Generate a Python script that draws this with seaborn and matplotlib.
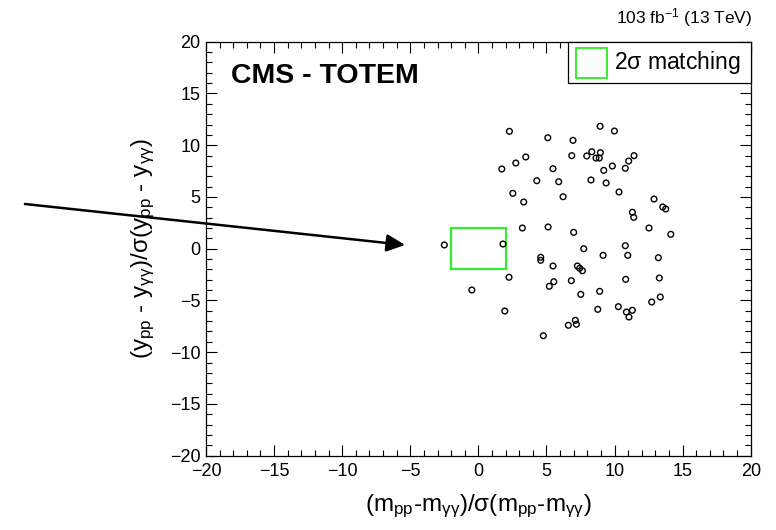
import matplotlib
matplotlib.use("Agg")
import matplotlib.pyplot as plt
from matplotlib.patches import Rectangle
from matplotlib.ticker import MultipleLocator
import seaborn as sns
import pandas as pd

# Normalised mass and rapidity differences of the candidate events
mass_pull = [
    2.28, 8.94, 9.99, 5.10, 6.95, 3.48, 2.75, 1.72, 6.86, 7.96, 8.33, 8.96,
    8.64, 8.88, 11.43, 11.04, 9.84, 10.79, 9.21, 5.48, 4.29, 5.90, 8.27, 9.38,
    10.33, 2.53, 3.33, 6.22, 12.90, 11.31, 11.41, 13.54, 13.76,
    3.23, 5.12, 7.00, 12.53, 14.13, -2.50, 1.81, 7.74, 10.79, 9.16, 10.97,
    13.22, 4.58, 4.58, 5.48, 7.27, 7.44, 7.64, 2.25, 5.54, 5.21, 6.83, 10.82,
    13.29, -0.48, 8.91, 7.52, 13.36, 12.73, 1.94, 8.77, 10.28, 10.87, 11.31,
    11.06, 7.12, 7.20, 6.61, 4.77,
]
rap_pull = [
    11.34, 11.83, 11.37, 10.72, 10.47, 8.86, 8.28, 7.70, 8.99, 8.96, 9.37, 9.28,
    8.76, 8.76, 8.99, 8.47, 7.99, 7.77, 7.57, 7.73, 6.57, 6.47, 6.64, 6.35,
    5.48, 5.35, 4.51, 5.02, 4.80, 3.52, 3.03, 4.03, 3.84,
    2.00, 2.10, 1.58, 2.00, 1.39, 0.36, 0.45, 0.00, 0.29, -0.64, -0.64,
    -0.87, -0.83, -1.12, -1.67, -1.67, -1.89, -2.13, -2.76, -3.19, -3.63, -3.09, -2.96,
    -2.83, -3.99, -4.12, -4.41, -4.67, -5.15, -6.02, -5.86, -5.60, -6.12, -5.95,
    -6.60, -6.92, -7.30, -7.40, -8.41,
]

# 2 sigma matching window
window = 2.0
axis_range = [-20, 20]

# Arrow pointing at the event just outside the window
arrow_tail = (-33.3, 4.32)
arrow_head = (-5.38, 0.36)

sns.set_style("ticks")
plt.rcParams["font.family"] = ["Liberation Sans", "DejaVu Sans"]
plt.rcParams["mathtext.fontset"] = "custom"
plt.rcParams["mathtext.rm"] = "Liberation Sans"
plt.rcParams["mathtext.it"] = "Liberation Sans"
plt.rcParams["mathtext.bf"] = "Liberation Sans:bold"
plt.rcParams["mathtext.sf"] = "Liberation Sans"
for key in ("text.color", "axes.labelcolor", "xtick.color", "ytick.color",
            "axes.edgecolor"):
    plt.rcParams[key] = "black"

df = pd.DataFrame({"dm": mass_pull, "dy": rap_pull})

fig = plt.figure(figsize=(7.76, 5.30), dpi=100)
ax = fig.add_axes([0.2655, 0.1402, 0.9674 - 0.2655, 0.9213 - 0.1402])

sns.scatterplot(data=df, x="dm", y="dy", ax=ax, marker="o", s=17,
                facecolor="none", edgecolor="black", linewidth=1.0, zorder=3)

ax.add_patch(Rectangle((-window, -window), 2 * window, 2 * window,
                       fill=False, edgecolor="#33ee33", linewidth=1.6, zorder=2))

ax.set_xlim(axis_range)
ax.set_ylim(axis_range)
ax.xaxis.set_major_locator(MultipleLocator(5))
ax.yaxis.set_major_locator(MultipleLocator(5))
ax.xaxis.set_minor_locator(MultipleLocator(1))
ax.yaxis.set_minor_locator(MultipleLocator(1))
ax.tick_params(which="both", direction="in", top=True, right=True,
               width=0.8, labelsize=13, color="black", labelcolor="black")
ax.tick_params(which="major", length=8)
ax.tick_params(which="minor", length=4)
ax.tick_params(axis="x", pad=5)
ax.tick_params(axis="y", pad=4)
for sp in ax.spines.values():
    sp.set_linewidth(0.9)
    sp.set_color("black")

ax.set_xlabel(r"(m$_{\mathregular{pp}}$-m$_{\mathregular{\gamma\gamma}}$)/$\mathregular{\sigma}$(m$_{\mathregular{pp}}$-m$_{\mathregular{\gamma\gamma}}$)",
              fontsize=17.5, labelpad=9)
ax.set_ylabel(r"(y$_{\mathregular{pp}}$ - y$_{\mathregular{\gamma\gamma}}$)/$\mathregular{\sigma}$(y$_{\mathregular{pp}}$ - y$_{\mathregular{\gamma\gamma}}$)",
              fontsize=17.5, labelpad=9)

ax.text(-18.2, 16.7, "CMS - TOTEM", fontsize=20.5, fontweight="bold",
        ha="left", va="center")

fig.text(0.969, 0.955, r"103 fb$^{\mathregular{-1}}$ (13 TeV)", fontsize=12.5,
         ha="right", va="baseline")

# Legend box
ax.add_patch(Rectangle((0.665, 0.900), 0.335, 0.100, transform=ax.transAxes,
                       fill=True, facecolor="white", edgecolor="black",
                       linewidth=0.9, zorder=4, clip_on=False))
ax.add_patch(Rectangle((0.679, 0.912), 0.058, 0.074, transform=ax.transAxes,
                       fill=False, edgecolor="#33ee33", linewidth=1.4, zorder=5))
ax.text(0.749, 0.950, r"2$\mathregular{\sigma}$ matching", transform=ax.transAxes,
        fontsize=16.5, ha="left", va="center", zorder=6)

ax.annotate("", xy=arrow_head, xytext=arrow_tail, xycoords="data",
            textcoords="data", annotation_clip=False,
            arrowprops=dict(arrowstyle="-|>,head_length=0.7,head_width=0.33",
                            mutation_scale=16, lw=1.8, color="black",
                            shrinkA=0, shrinkB=0))

fig.savefig("out.png", dpi=100, facecolor="white")
